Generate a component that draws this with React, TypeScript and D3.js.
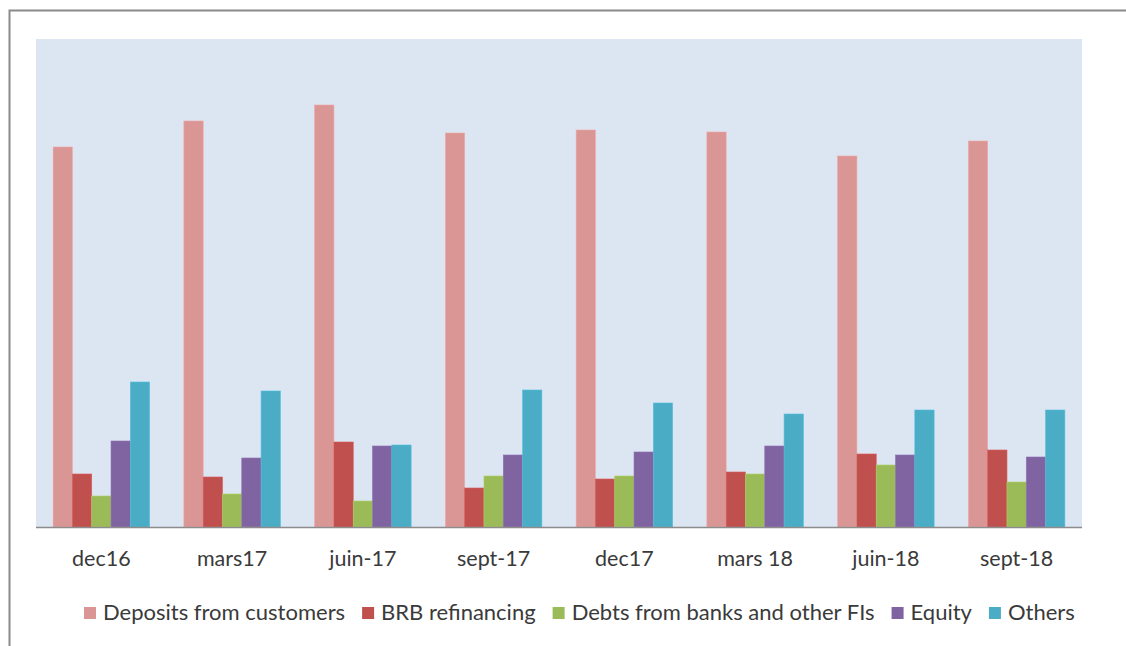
import React, { useEffect, useRef } from "react";
import * as d3 from "d3";

const categories = ["dec16", "mars17", "juin-17", "sept-17", "dec17", "mars 18", "juin-18", "sept-18"];
const seriesNames = ["Deposits from customers", "BRB refinancing", "Debts from banks and other FIs", "Equity", "Others"];
const deposits = [380, 406, 422, 394, 397, 395, 371, 386];
const brb = [53, 50, 85, 39, 48, 55, 73, 77];
const debts = [31, 33, 26, 51, 51, 53, 62, 45];
const equity = [86, 69, 81, 72, 75, 81, 72, 70];
const others = [145, 136, 82, 137, 124, 113, 117, 117];
const colors = ["#d99694", "#c0504d", "#9bbb59", "#8064a2", "#4bacc6"];

const W = 1126;
const H = 646;
const FONT = "Lato, 'Open Sans', sans-serif";

export default function App() {
  const ref = useRef<SVGSVGElement>(null);

  useEffect(() => {
    const svg = d3.select(ref.current);
    svg.selectAll("*").remove();
    const series = [deposits, brb, debts, equity, others];

    // frame
    svg.append("rect").attr("x", 9.5).attr("y", 10.5).attr("width", 1200).attr("height", 700)
      .attr("fill", "#fff").attr("stroke", "#8a8a8a").attr("stroke-width", 2);

    const left = 36, right = 1082, top = 39, bottom = 527;
    svg.append("rect").attr("x", left).attr("y", top).attr("width", right - left).attr("height", bottom - top)
      .attr("fill", "#dce6f2");

    const x0 = d3.scaleBand<string>().domain(categories).range([left, right]).paddingInner(0.262).paddingOuter(0.131);
    const x1 = d3.scaleBand<number>().domain(d3.range(5)).range([0, x0.bandwidth()]);
    const y = d3.scaleLinear().domain([0, bottom - top]).range([bottom, top]);

    const g = svg.append("g");
    categories.forEach((c, i) => {
      series.forEach((s, j) => {
        g.append("rect")
          .attr("x", (x0(c) as number) + (x1(j) as number))
          .attr("y", y(s[i]))
          .attr("width", x1.bandwidth())
          .attr("height", y(0) - y(s[i]))
          .attr("fill", colors[j])
          .attr("stroke", d3.color(colors[j])!.brighter(0.3).formatHex())
          .attr("stroke-width", 0.6);
      });
    });

    svg.append("line").attr("x1", left).attr("x2", right).attr("y1", bottom + 0.5).attr("y2", bottom + 0.5)
      .attr("stroke", "#8c8c8c").attr("stroke-width", 1.5);

    categories.forEach((c) => {
      svg.append("text")
        .attr("x", (x0(c) as number) + x0.bandwidth() / 2)
        .attr("y", 566)
        .attr("text-anchor", "middle")
        .attr("font-family", FONT)
        .attr("font-size", 21.5)
        .attr("fill", "#3a3a3a")
        .text(c);
    });

    // legend
    const lg = svg.append("g");
    let cx = 84;
    seriesNames.forEach((n, j) => {
      lg.append("rect").attr("x", cx).attr("y", 607).attr("width", 12).attr("height", 12).attr("fill", colors[j]);
      const t = lg.append("text").attr("x", cx + 19).attr("y", 620)
        .attr("font-family", FONT).attr("font-size", 22).attr("fill", "#3a3a3a").text(n);
      const w = (t.node() as SVGTextElement).getComputedTextLength();
      cx = cx + 19 + w + 17;
    });
  }, []);

  return (
    <svg ref={ref} width={W} height={H} style={{ position: "absolute", left: 0, top: 0 }} />
  );
}
